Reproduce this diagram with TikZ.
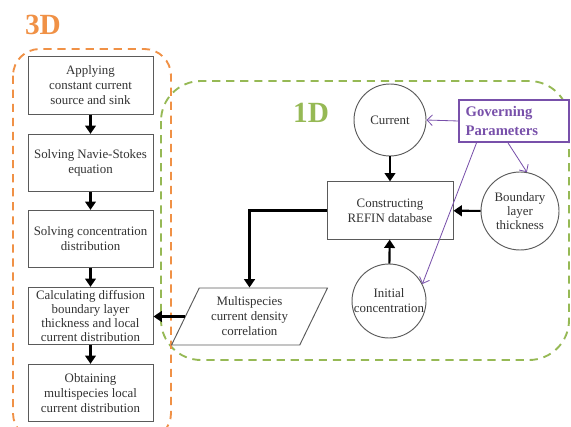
\documentclass[tikz,border=0pt]{standalone}
\usepackage{fontspec}
\setmainfont{Liberation Serif}
\usetikzlibrary{arrows.meta,shapes.geometric}
\definecolor{orangeline}{RGB}{240,145,70}
\definecolor{greenline}{RGB}{150,185,85}
\definecolor{purpleline}{RGB}{120,80,170}
\definecolor{boxgray}{RGB}{90,90,90}

\begin{document}
\begin{tikzpicture}[x=0.03cm,y=-0.03cm,
  every node/.style={font=\fontsize{11}{12.8}\selectfont, text=black!80, align=center},
  stepbox/.style={draw=boxgray, line width=0.8pt, fill=white, minimum width=3.75cm, minimum height=1.72cm, inner sep=1pt},
  varcircle/.style={draw=boxgray, circle, line width=0.8pt, fill=white, inner sep=0pt},
  flow/.style={-{Triangle[length=2.5mm,width=3.2mm]}, line width=1.8pt},
  param/.style={-{Straight Barb[length=1.6mm]}, draw=purpleline, line width=0.7pt},
  zone/.style={line width=1.6pt, dash pattern=on 7pt off 5pt}]
\useasboundingbox (0,0) rectangle (571,426);

% dashed zones
\draw[zone, greenline, rounded corners=1.2cm] (161,81) rectangle (569,360);
\draw[zone, orangeline, rounded corners=0.8cm] (13,49) rectangle (171,440);
\node[font=\fontsize{25}{25}\selectfont\bfseries, text=orangeline] (lab3d) at (43,25) {3D};
\node[font=\fontsize{25}{25}\selectfont\bfseries, text=greenline] (lab1d) at (311,113) {1D};

% 3D steps
\node[stepbox] (apply) at (90.5,85.5) {Applying\\constant current\\source and sink};
\node[stepbox] (navier) at (90.5,163) {Solving Navie-Stokes\\equation};
\node[stepbox] (conc) at (90.5,239) {Solving concentration\\distribution};
\node[stepbox, font=\fontsize{11}{12}\selectfont] (calc) at (90.5,316) {Calculating diffusion\\boundary layer\\thickness and local\\current distribution};
\node[stepbox] (obtain) at (90.5,393) {Obtaining\\multispecies local\\current distribution};

% 1D part
\node[stepbox, minimum width=3.78cm] (refin) at (390,210.5) {Constructing\\REFIN database};
\node[varcircle, minimum size=2.16cm] (current) at (390,120) {Current};
\node[varcircle, minimum size=2.34cm, font=\fontsize{11}{12}\selectfont] (layer) at (520,211) {Boundary\\layer\\thickness};
\node[varcircle, minimum size=2.22cm] (initial) at (389,301) {Initial\\concentration};
\node[trapezium, trapezium left angle=61.5, trapezium right angle=118.5, trapezium stretches=true,
  draw=boxgray, line width=0.8pt, fill=white, minimum width=4.68cm, minimum height=1.71cm, inner sep=0pt]
  (corr) at (249.5,316.5) {Multispecies\\current density\\correlation};
\node[draw=purpleline, line width=1pt, fill=white, text=purpleline, align=left,
  font=\fontsize{12.5}{15.5}\selectfont\bfseries, text width=2.9cm, inner xsep=0.2cm,
  minimum height=1.26cm] (govern) at (514,121) {Governing\\Parameters};

% flow arrows
\draw[flow] (apply) -- (navier);
\draw[flow] (navier) -- (conc);
\draw[flow] (conc) -- (calc);
\draw[flow] (calc) -- (obtain);
\draw[flow] (current) -- (refin);
\draw[flow] (initial) -- (refin);
\draw[flow] (layer) -- (refin);
\draw[flow] (refin.west) -| (corr.north);
\draw[flow] (corr.west) -- (corr.west -| calc.east);

% governing parameters
\draw[param] (govern.west) -- (current.east);
\draw[param] (govern.-106) -- (layer.80);
\draw[param] (govern.210) -- (initial.27);
\end{tikzpicture}
\end{document}
